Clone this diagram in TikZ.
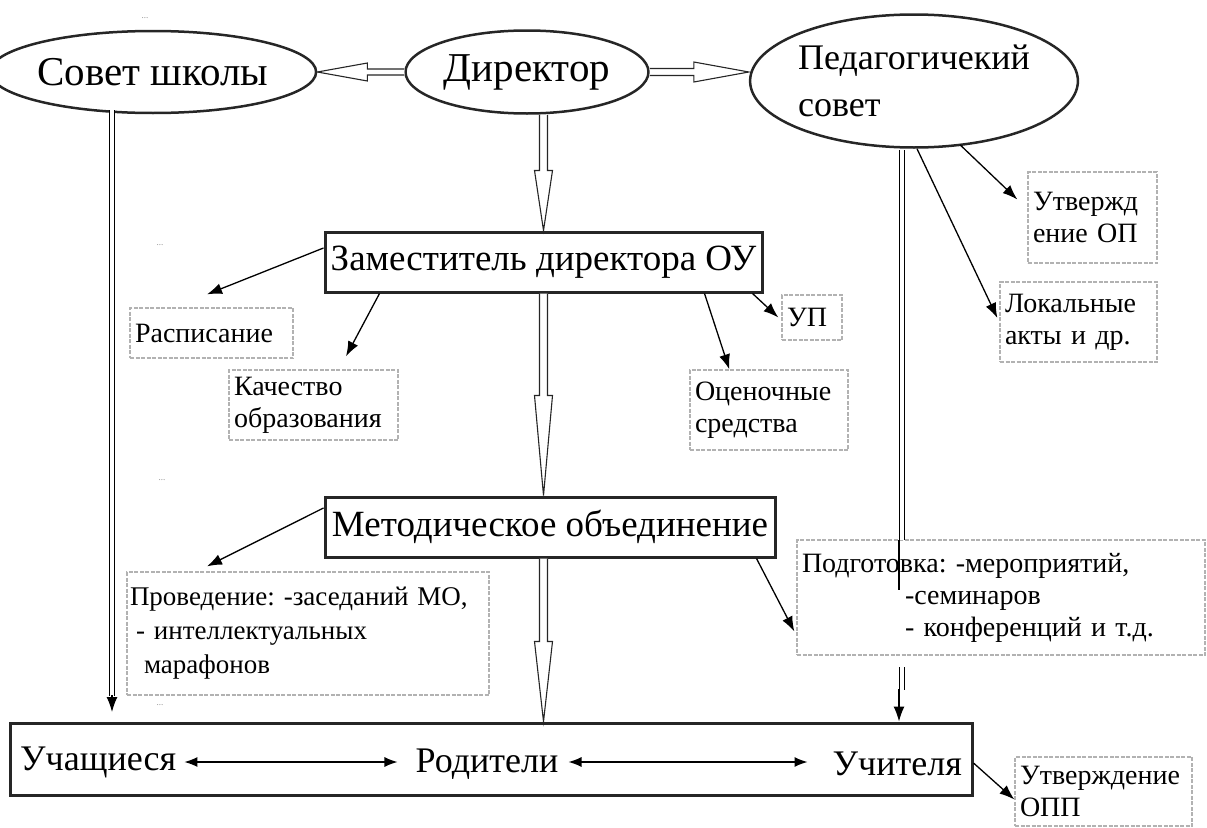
\documentclass[tikz,border=0pt]{standalone}
\usepackage{fontspec}
\setmainfont{Liberation Serif}[Script=Cyrillic]
\frenchspacing
\usetikzlibrary{shapes.geometric,arrows.meta,calc}

\tikzset{
 ell/.style={ellipse, draw=black!85, line width=2.5pt, inner sep=0pt, font=\fontsize{41}{44}\selectfont},
 bigbox/.style={rectangle, draw=black!85, line width=3pt, inner sep=0pt, font=\fontsize{37}{40}\selectfont},
 sbox/.style={rectangle, draw=black!30, line width=1.3pt, dash pattern=on 4pt off 1.5pt, inner xsep=5pt, inner ysep=0pt, align=left, font=\fontsize{28}{32}\selectfont},
 lbl/.style={inner sep=0pt, font=\fontsize{36}{40}\selectfont},
 arr/.style={line width=1.3pt, -{Latex[length=15pt,width=11pt]}},
 barr/.style={line width=1.3pt, {Latex[length=13pt,width=10pt]}-{Latex[length=13pt,width=10pt]}},
 hollow/.style={draw=black!85, line width=1.1pt, fill=white, line join=miter},
 dbl/.style={draw=black, line width=1pt, double=white, double distance=3.5pt},
 speck/.style={text=black!45, font=\fontsize{9}{9}\selectfont, inner sep=0pt},
}

% hollow arrow: #1 from, #2 tip, #3 head length, #4 shaft half width, #5 head half width
\newcommand\hollowarrow[5]{%
  \coordinate (hA) at (#1);
  \coordinate (hT) at (#2);
  \coordinate (hB) at ($(hT)!#3!(hA)$);
  \draw[hollow] ($(hA)!#4!90:(hT)$) -- ($(hB)!#4!-90:(hA)$) -- ($(hB)!#5!-90:(hA)$) -- (hT)
     -- ($(hB)!#5!90:(hA)$) -- ($(hB)!#4!90:(hA)$) -- ($(hA)!#4!-90:(hT)$);
}

\begin{document}
\begin{tikzpicture}[x=1pt,y=-1pt]
\useasboundingbox (0,0) rectangle (1207,827);

% ---- ellipses
\node[ell, minimum width=263pt, minimum height=82pt] (sov) at (153,72) {Совет школы};
\node[ell, minimum width=243pt, minimum height=83pt] (dir) at (527,72) {Директор};
\node[ell, minimum width=296pt, minimum height=133pt, align=left, font=\fontsize{36}{47}\selectfont] (ped) at (914,81) {Педагогичекий\\совет};

% ---- main boxes
\node[bigbox, minimum width=437pt, minimum height=60pt] (zam) at (543.5,262) {Заместитель директора ОУ};
\node[bigbox, minimum width=450pt, minimum height=60pt] (met) at (550,527) {Методическое объединение};
\node[bigbox, minimum width=962pt, minimum height=72pt] (bot) at (491,759) {};
\node[lbl, anchor=west] (uch) at (20,762) {Учащиеся};
\node[lbl] (rod) at (487,764) {Родители};
\node[lbl, anchor=east] (uchit) at (962,764) {Учителя};

% ---- small boxes
\node[sbox, text width=153pt, minimum height=50pt] (rasp) at (211.5,333) {Расписание};
\node[sbox, text width=159pt, minimum height=70pt] (kach) at (313.5,405) {Качество\\образования};
\node[sbox, text width=50pt, minimum height=45pt] (up) at (812,317.5) {УП};
\node[sbox, text width=148pt, minimum height=80pt] (ocen) at (769,410) {Оценочные\\средства};
\node[sbox, text width=119pt, minimum height=91pt] (utv) at (1092.5,217.5) {Утвержд\\ение ОП};
\node[sbox, text width=147pt, minimum height=80pt] (lok) at (1078.5,322) {Локальные\\акты и др.};
\node[sbox, text width=356pt, inner xsep=3pt, minimum height=123pt, font=\fontsize{27}{34}\selectfont] (prov) at (308,633.5) {Проведение: -заседаний МО,\\\hspace*{6pt}- интеллектуальных\\\hspace*{14pt}марафонов};
\node[sbox, text width=398pt, minimum height=115pt] (podg) at (1001,597.5) {Подготовка: -мероприятий,\\\hspace*{103pt}-семинаров\\\hspace*{103pt}- конференций и т.д.};
\node[sbox, text width=167pt, minimum height=69pt] (utvopp) at (1103.5,791.5) {Утверждение\\ОПП};

% ---- specks
\node[speck] (d1) at (145,18) {...};
\node[speck] (d2) at (160,245) {...};
\node[speck] (d3) at (162,480) {...};
\node[speck] (d4) at (160,705) {...};

% ---- hollow arrows
\hollowarrow{dir.west}{sov.east}{50pt}{3pt}{9pt}
\hollowarrow{dir.east}{dir.east -| ped.west}{55pt}{3.5pt}{10pt}
\hollowarrow{dir.south -| zam.north}{zam.north}{60pt}{4pt}{9pt}
\hollowarrow{zam.south}{zam.south |- met.north}{100pt}{4pt}{9pt}
\hollowarrow{zam.south |- met.south}{zam.south |- bot.north}{80pt}{4pt}{9pt}

% ---- Совет школы down
\coordinate (sa) at (112,110);
\coordinate (sb) at (112,696);
\coordinate (sc) at (112,712);
\draw[dbl] (sa) -- (sb);
\draw[arr] ($(sb)+(0,-1)$) -- (sc);

% ---- Педсовет down
\coordinate (pa) at (902,150);
\coordinate (pb) at (902,540);
\coordinate (pc) at (899,540);
\coordinate (pd) at (899,590);
\coordinate (pe) at (902,667);
\coordinate (pf) at (902,690);
\coordinate (pg) at (899,689);
\draw[dbl] (pa) -- (pb);
\draw[line width=1.3pt] (pc) -- (pd);
\draw[dbl] (pe) -- (pf);
\draw[arr] (pg) -- (pg |- bot.north);

% ---- thin arrows
\draw[arr] ($(zam.west)+(0,-14)$) -- ($(rasp.north)+(-4.5,-13)$);
\draw[arr] ($(zam.south west)+(56,0)$) -- ($(kach.north)+(32.5,-13)$);
\draw[arr] ($(zam.south east)+(-59,0)$) -- ($(ocen.north west)+(40,0)$);
\draw[arr] ($(zam.south east)+(-11,0)$) -- ($(up.west)+(-3,0)$);
\draw[arr] ($(ped.south)+(3,0)$) -- ($(lok.west)+(-2,-4)$);
\draw[arr] ($(ped.south)+(46,-4)$) -- ($(utv.west)+(-10,-18)$);
\draw[arr] ($(met.west)+(0,-19)$) -- ($(prov.north)+(-101,-5)$);
\draw[arr] ($(met.south east)+(-20,0)$) -- ($(podg.west)+(-2,34)$);
\draw[arr] ($(bot.east)+(0,4)$) -- ($(utvopp.west)+(0,8)$);

% ---- bottom double arrows
\draw[barr] ($(uch.east)+(8,0)$) -- ($(rod.west)+(-18,-2)$);
\draw[barr] ($(rod.east)+(10,-2)$) -- ($(uchit.west)+(-25,-2)$);
\end{tikzpicture}
\end{document}
